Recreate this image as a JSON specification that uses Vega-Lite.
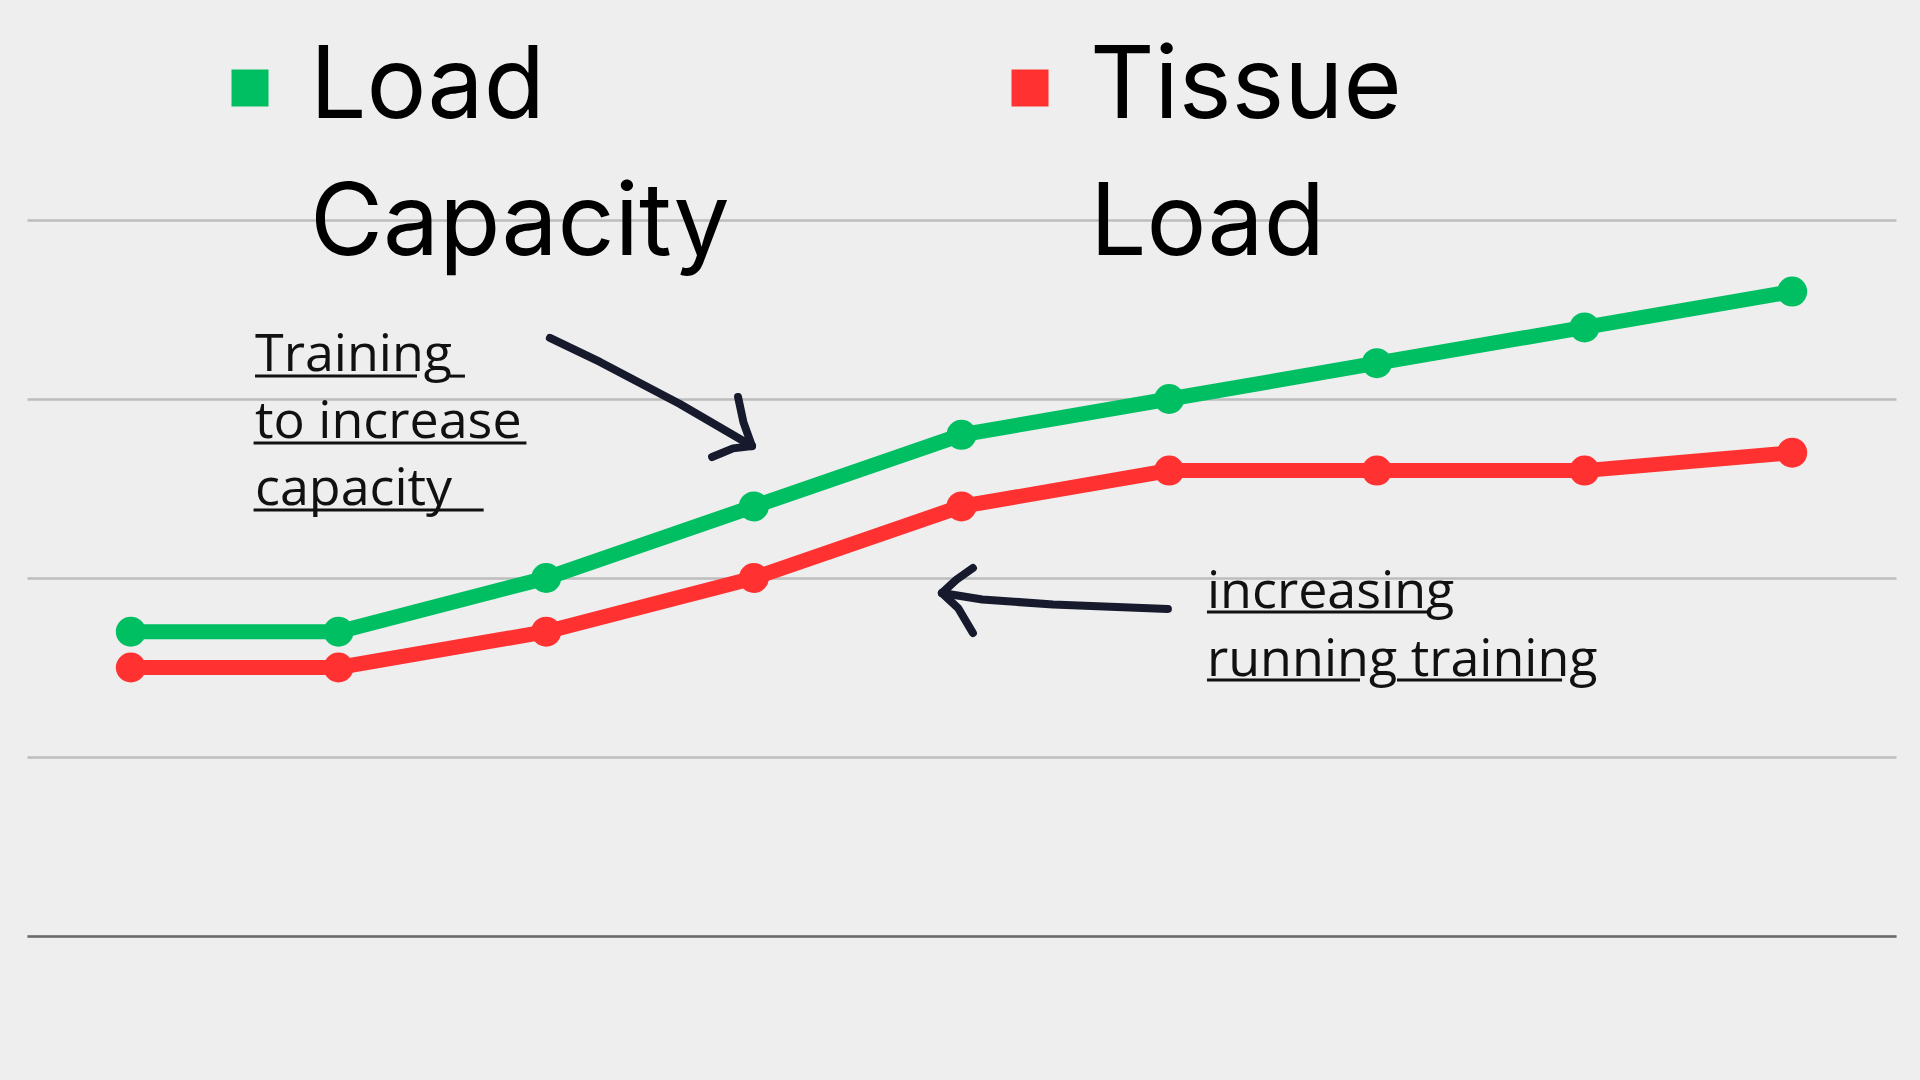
{
  "$schema": "https://vega.github.io/schema/vega-lite/v6.json",
  "autosize": {"type": "none"},
  "width": 1869,
  "height": 716,
  "padding": {"left": 27, "top": 220, "right": 24, "bottom": 144},
  "background": "#EEEEEE",
  "config": {"view": {"stroke": null}},
  "datasets": {
    "series": [
      {"week": 1, "value": 1.7, "series": "Load Capacity"},
      {"week": 2, "value": 1.7, "series": "Load Capacity"},
      {"week": 3, "value": 2.0, "series": "Load Capacity"},
      {"week": 4, "value": 2.4, "series": "Load Capacity"},
      {"week": 5, "value": 2.8, "series": "Load Capacity"},
      {"week": 6, "value": 3.0, "series": "Load Capacity"},
      {"week": 7, "value": 3.2, "series": "Load Capacity"},
      {"week": 8, "value": 3.4, "series": "Load Capacity"},
      {"week": 9, "value": 3.6, "series": "Load Capacity"},
      {"week": 1, "value": 1.5, "series": "Tissue Load"},
      {"week": 2, "value": 1.5, "series": "Tissue Load"},
      {"week": 3, "value": 1.7, "series": "Tissue Load"},
      {"week": 4, "value": 2.0, "series": "Tissue Load"},
      {"week": 5, "value": 2.4, "series": "Tissue Load"},
      {"week": 6, "value": 2.6, "series": "Tissue Load"},
      {"week": 7, "value": 2.6, "series": "Tissue Load"},
      {"week": 8, "value": 2.6, "series": "Tissue Load"},
      {"week": 9, "value": 2.7, "series": "Tissue Load"}
    ],
    "arrows": [
      {"stroke": "a1", "order": 1, "x": 3.018, "y": 3.341},
      {"stroke": "a1", "order": 2, "x": 3.259, "y": 3.207},
      {"stroke": "a1", "order": 3, "x": 3.644, "y": 2.972},
      {"stroke": "a1", "order": 4, "x": 3.991, "y": 2.737},
      {"stroke": "a1u", "order": 1, "x": 3.924, "y": 3.011},
      {"stroke": "a1u", "order": 2, "x": 3.950, "y": 2.870},
      {"stroke": "a1u", "order": 3, "x": 3.991, "y": 2.737},
      {"stroke": "a1l", "order": 1, "x": 3.991, "y": 2.737},
      {"stroke": "a1l", "order": 2, "x": 3.900, "y": 2.724},
      {"stroke": "a1l", "order": 3, "x": 3.799, "y": 2.676},
      {"stroke": "a2", "order": 1, "x": 5.994, "y": 1.827},
      {"stroke": "a2", "order": 2, "x": 5.441, "y": 1.852},
      {"stroke": "a2", "order": 3, "x": 5.100, "y": 1.880},
      {"stroke": "a2", "order": 4, "x": 4.906, "y": 1.916},
      {"stroke": "a2u", "order": 1, "x": 5.055, "y": 2.056},
      {"stroke": "a2u", "order": 2, "x": 4.975, "y": 1.990},
      {"stroke": "a2u", "order": 3, "x": 4.906, "y": 1.916},
      {"stroke": "a2l", "order": 1, "x": 4.906, "y": 1.916},
      {"stroke": "a2l", "order": 2, "x": 4.985, "y": 1.830},
      {"stroke": "a2l", "order": 3, "x": 5.055, "y": 1.693}
    ],
    "underlines": [
      {"x": 1.598, "x2": 2.378, "y": 3.128},
      {"x": 2.537, "x2": 2.609, "y": 3.128},
      {"x": 1.591, "x2": 2.905, "y": 2.754},
      {"x": 1.591, "x2": 2.699, "y": 2.380},
      {"x": 6.182, "x2": 7.256, "y": 1.810},
      {"x": 6.182, "x2": 6.919, "y": 1.430},
      {"x": 7.097, "x2": 7.892, "y": 1.430}
    ],
    "notes": [
      {"text": "Training", "x": 1.598, "y": 3.156},
      {"text": "to increase", "x": 1.598, "y": 2.782},
      {"text": "capacity", "x": 1.598, "y": 2.408},
      {"text": "increasing", "x": 6.182, "y": 1.830},
      {"text": "running training", "x": 6.182, "y": 1.450}
    ]
  },
  "layer": [
    {
      "data": {"name": "series"},
      "mark": {"type": "line", "strokeWidth": 15},
      "encoding": {
        "x": {"field": "week", "type": "quantitative", "scale": {"domain": [0.5, 9.5], "nice": false, "zero": false},
              "axis": {"title": null, "labels": false, "ticks": false, "grid": false, "domain": true, "domainColor": "#6B6B6B", "domainWidth": 2.5}},
        "y": {"field": "value", "type": "quantitative", "scale": {"domain": [0, 4], "nice": false},
              "axis": {"title": null, "labels": false, "ticks": false, "domain": false, "grid": true, "values": [0, 1, 2, 3, 4], "gridColor": "#BDBDBD", "gridWidth": 2.5}},
        "color": {"field": "series", "type": "nominal",
                  "scale": {"domain": ["Load Capacity", "Tissue Load"], "range": ["#00BF63", "#FF3131"]},
                  "legend": {"orient": "none", "legendX": 173, "legendY": -182, "direction": "horizontal", "title": null,
                             "symbolType": "square", "symbolSize": 1369, "symbolStrokeWidth": 0, "symbolOpacity": 1,
                             "labelFont": "Inter", "labelFontSize": 100, "labelColor": "#000000", "labelLimit": 1000,
                             "labelOffset": 10, "columnPadding": 250, "labelBaseline": "middle",
                             "labelExpr": "datum.label == 'Load Capacity' ? ['Load', 'Capacity'] : ['Tissue', 'Load']",
                             "encode": {"symbols": {"update": {"fill": {"scale": "color", "field": "value"}, "strokeWidth": {"value": 0}}},
                                        "labels": {"update": {"lineHeight": {"value": 137}}}}}}
      }
    },
    {
      "data": {"name": "series"},
      "mark": {"type": "circle", "size": 900, "opacity": 1},
      "encoding": {
        "x": {"field": "week", "type": "quantitative"},
        "y": {"field": "value", "type": "quantitative"},
        "color": {"field": "series", "type": "nominal",
                  "legend": {"orient": "none", "legendX": 173, "legendY": -182, "direction": "horizontal", "title": null,
                             "symbolType": "square", "symbolSize": 1369, "symbolStrokeWidth": 0, "symbolOpacity": 1,
                             "labelFont": "Inter", "labelFontSize": 100, "labelColor": "#000000", "labelLimit": 1000,
                             "labelOffset": 10, "columnPadding": 250, "labelBaseline": "middle",
                             "labelExpr": "datum.label == 'Load Capacity' ? ['Load', 'Capacity'] : ['Tissue', 'Load']",
                             "encode": {"symbols": {"update": {"fill": {"scale": "color", "field": "value"}, "strokeWidth": {"value": 0}}},
                                        "labels": {"update": {"lineHeight": {"value": 137}}}}}}
      }
    },
    {
      "data": {"name": "arrows"},
      "mark": {"type": "line", "color": "#161A2C", "strokeWidth": 8, "strokeCap": "round", "strokeJoin": "round"},
      "encoding": {
        "x": {"field": "x", "type": "quantitative"},
        "y": {"field": "y", "type": "quantitative"},
        "detail": {"field": "stroke"},
        "order": {"field": "order"}
      }
    },
    {
      "data": {"name": "underlines"},
      "mark": {"type": "rule", "color": "#111111", "strokeWidth": 3},
      "encoding": {
        "x": {"field": "x", "type": "quantitative"},
        "x2": {"field": "x2"},
        "y": {"field": "y", "type": "quantitative"}
      }
    },
    {
      "data": {"name": "notes"},
      "mark": {"type": "text", "align": "left", "baseline": "alphabetic", "font": "Open Sans", "fontSize": 52, "color": "#111111"},
      "encoding": {
        "x": {"field": "x", "type": "quantitative"},
        "y": {"field": "y", "type": "quantitative"},
        "text": {"field": "text"}
      }
    }
  ]
}
